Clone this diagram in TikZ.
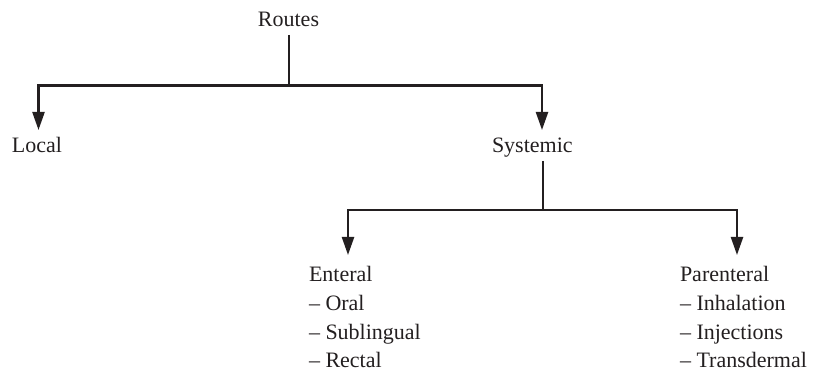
\documentclass[tikz,border=0pt]{standalone}
\usepackage{fontspec}
\setmainfont{Liberation Serif}
\usetikzlibrary{arrows.meta}
\definecolor{ink}{HTML}{231F20}
\begin{document}
\begin{tikzpicture}[x=1pt,y=-1pt,
  lbl/.style={inner sep=0pt,outer sep=0pt,text=ink,font=\fontsize{22}{28.5}\selectfont,anchor=base west},
  stemline/.style={draw=ink,line width=1.9pt},
  stemthin/.style={draw=ink,line width=1.6pt},
  busline/.style={draw=ink,line width=2.3pt,-{Triangle[length=18pt,width=12pt]}}]
\useasboundingbox (0,0) rectangle (819,371);
% labels
\node[lbl,anchor=base] (routes) at (288.5,27) {Routes};
\node[lbl] (local) at (12,153) {Local};
\node[lbl] (systemic) at (492,153) {Systemic};
\node[lbl] (enteral) at (309,282) {Enteral};
\node[lbl] (oral) at (309,310.5) {– Oral};
\node[lbl] (subl) at (309,339) {– Sublingual};
\node[lbl] (rectal) at (309,367.5) {– Rectal};
\node[lbl] (parenteral) at (680,282) {Parenteral};
\node[lbl] (inhal) at (680,310.5) {– Inhalation};
\node[lbl] (inject) at (680,339) {– Injections};
\node[lbl] (transd) at (680,367.5) {– Transdermal};
% coordinates
\coordinate (rtop) at (289,35);
\coordinate (rbus) at (289,85.5);
\coordinate (ltip) at (38.5,130);
\coordinate (stip) at (542,130);
\coordinate (stop) at (543,161);
\coordinate (sbus) at (543,210);
\coordinate (etip) at (348,255);
\coordinate (ptip) at (737,255);
% connectors
\draw[stemline] (rtop) -- (rbus);
\draw[busline] (rbus) -| (ltip);
\draw[busline] (rbus) -| (stip);
\draw[stemthin] (stop) -- (sbus);
\draw[busline] (sbus) -| (etip);
\draw[busline] (sbus) -| (ptip);
\end{tikzpicture}
\end{document}
